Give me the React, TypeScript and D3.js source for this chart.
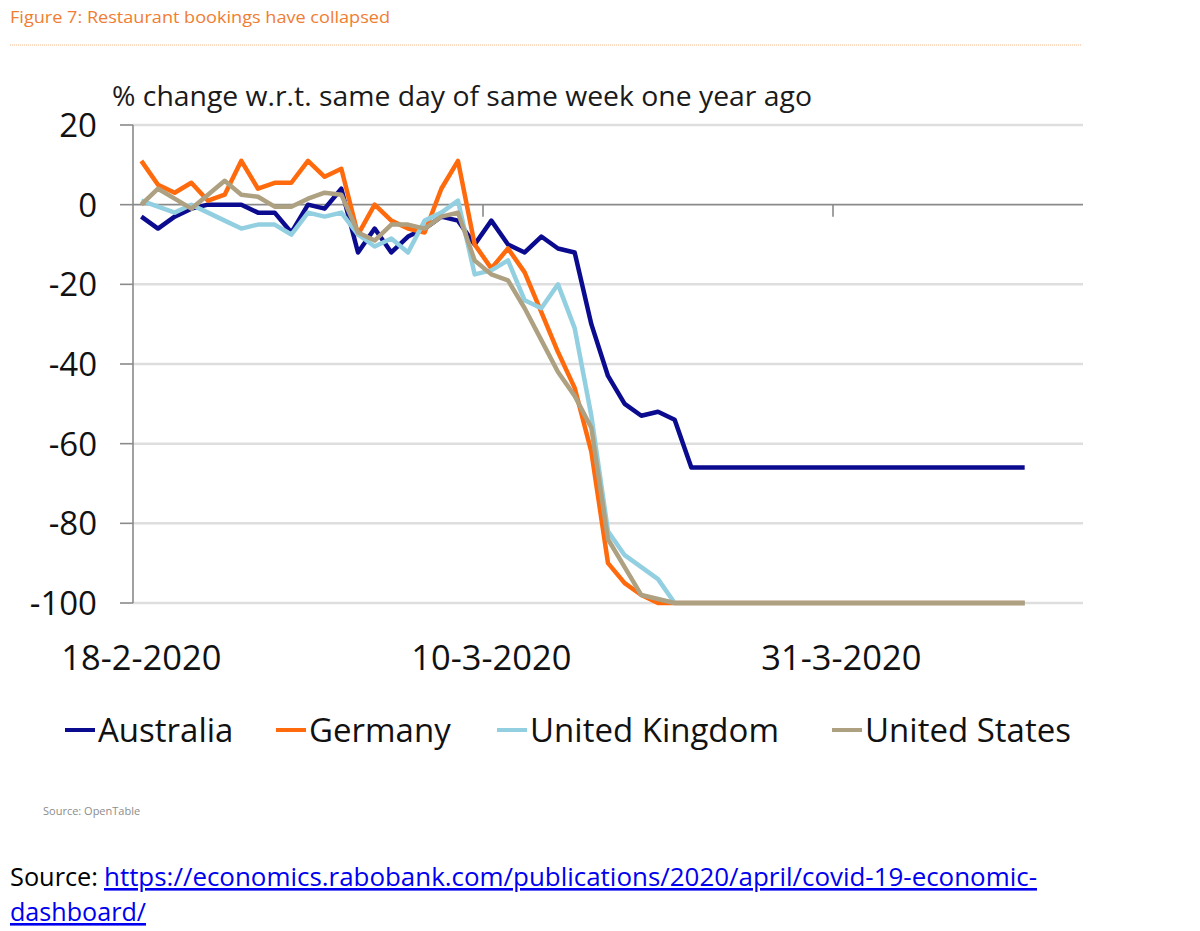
import React from "react";
import * as d3 from "d3";

const startDate = new Date(2020, 1, 18);
const endDate = new Date(2020, 3, 15);
const tickDates = [new Date(2020, 1, 18), new Date(2020, 2, 10), new Date(2020, 2, 31)];
const tickLabels = ["18-2-2020", "10-3-2020", "31-3-2020"];
const yTicks = [20, 0, -20, -40, -60, -80, -100];

const seriesNames = ["Australia", "Germany", "United Kingdom", "United States"];
const seriesColors = ["#0b0b8f", "#ff6a0d", "#92cfe0", "#aea182"];

const australia = [
  -3, -6, -3, -1, 0, 0, 0, -2, -2, -7, 0, -1, 4, -12, -6, -12, -8, -6, -3, -4,
  -10, -4, -10, -12, -8, -11, -12, -30, -43, -50, -53, -52, -54,
  -66, -66, -66, -66, -66, -66, -66, -66, -66, -66, -66, -66, -66, -66, -66, -66, -66, -66, -66, -66, -66,
];
const germany = [
  11, 5, 3, 5.5, 1, 2.5, 11, 4, 5.5, 5.5, 11, 7, 9, -7.5, 0, -4, -6, -7, 4, 11,
  -10, -16, -11, -17, -27, -37, -46, -62, -90, -95, -98,
  -100, -100, -100, -100, -100, -100, -100, -100, -100, -100, -100, -100, -100, -100, -100, -100, -100, -100, -100, -100, -100, -100, -100,
];
const unitedKingdom = [
  1, -0.5, -2, 0, -2, -4, -6, -5, -5, -7.5, -2, -3, -2, -7.5, -10.5, -8.5, -12, -4, -2, 1,
  -17.5, -16.5, -14, -24, -26, -20, -31, -53, -82, -88, -91, -94,
  -100, -100, -100, -100, -100, -100, -100, -100, -100, -100, -100, -100, -100, -100, -100, -100, -100, -100, -100, -100, -100, -100,
];
const unitedStates = [
  0, 4, 1.5, -1, 2.5, 6, 2.5, 2, -0.5, -0.5, 1.5, 3, 2.5, -7, -9, -5, -5, -6, -3, -2,
  -14, -17.5, -19, -26, -34, -42, -48, -56, -84, -91, -98, -99,
  -100, -100, -100, -100, -100, -100, -100, -100, -100, -100, -100, -100, -100, -100, -100, -100, -100, -100, -100, -100, -100, -100,
];

const seriesValues = [australia, germany, unitedKingdom, unitedStates];

const FONT = "'Open Sans', 'Noto Sans', sans-serif";
const HALF_DAY = 12 * 3600 * 1000;

export default function App() {
  const W = 1200;
  const H = 931;
  const x = d3.scaleTime().domain([startDate, endDate]).range([133, 1083]);
  const y = d3.scaleLinear().domain([-100, 20]).range([603, 125]);

  const dayDate = (i: number) => d3.timeDay.offset(startDate, i);
  const line = d3
    .line<number>()
    .x((_, i) => x(new Date(dayDate(i).getTime() + HALF_DAY)))
    .y((v) => y(v));

  const legendX = [65, 276, 497, 832];

  return (
    <div style={{ position: "absolute", left: 0, top: 0 }}>
      <svg width={W} height={H} style={{ display: "block", background: "#fff" }}>
        <text x={10} y={23} fontFamily={FONT} fontSize={17} fill="#f07d32" textLength={380} lengthAdjust="spacingAndGlyphs">
          Figure 7: Restaurant bookings have collapsed
        </text>
        <line x1={10} x2={1082} y1={45} y2={45} stroke="#f5b98c" strokeWidth={1} strokeDasharray="1,1" />

        <text x={112} y={106} fontFamily={FONT} fontSize={27} fill="#1a1a1a" textLength={700} lengthAdjust="spacingAndGlyphs">
          % change w.r.t. same day of same week one year ago
        </text>

        {yTicks.map((t) => (
          <line key={"g" + t} x1={133} x2={1083} y1={y(t)} y2={y(t)} stroke={t === 0 ? "#8a8a8a" : "#dedede"} strokeWidth={t === 0 ? 1.6 : 2.5} />
        ))}
        <line x1={133} x2={133} y1={y(20)} y2={y(-100)} stroke="#8a8a8a" strokeWidth={1.6} />
        {yTicks.map((t) => (
          <line key={"t" + t} x1={120} x2={133} y1={y(t)} y2={y(t)} stroke="#8a8a8a" strokeWidth={1.6} />
        ))}
        {tickDates.slice(1).map((d, i) => (
          <line key={"xt" + i} x1={x(d)} x2={x(d)} y1={y(0)} y2={y(0) + 12} stroke="#8a8a8a" strokeWidth={1.6} />
        ))}
        {yTicks.map((t) => (
          <text key={"yl" + t} x={97} y={y(t) + 12} textAnchor="end" fontFamily={FONT} fontSize={33} fill="#111">
            {t}
          </text>
        ))}
        {tickDates.map((d, i) => (
          <text key={"xl" + i} x={x(new Date(d.getTime() + HALF_DAY))} y={670} textAnchor="middle" fontFamily={FONT} fontSize={34} fill="#111" textLength={160} lengthAdjust="spacingAndGlyphs">
            {tickLabels[i]}
          </text>
        ))}

        {seriesValues.map((vals, k) => (
          <path key={"s" + k} d={line(vals) || ""} fill="none" stroke={seriesColors[k]} strokeWidth={4.5} strokeLinejoin="round" />
        ))}

        {seriesNames.map((n, k) => (
          <g key={"lg" + k}>
            <line x1={legendX[k]} x2={legendX[k] + 30} y1={730} y2={730} stroke={seriesColors[k]} strokeWidth={4} />
            <text x={legendX[k] + 33} y={742} fontFamily={FONT} fontSize={33} fill="#111">
              {n}
            </text>
          </g>
        ))}

        <text x={43} y={815} fontFamily={FONT} fontSize={11} fill="#8c8c8c">
          Source: OpenTable
        </text>

        <text x={10} y={886} fontFamily={FONT} fontSize={26} fill="#000" textLength={88} lengthAdjust="spacingAndGlyphs">
          Source:
        </text>
        <text x={104} y={886} fontFamily={FONT} fontSize={26} fill="#0000ee" textDecoration="underline" textLength={933} lengthAdjust="spacingAndGlyphs">
          https://economics.rabobank.com/publications/2020/april/covid-19-economic-
        </text>
        <text x={10} y={921} fontFamily={FONT} fontSize={26} fill="#0000ee" textDecoration="underline" textLength={136} lengthAdjust="spacingAndGlyphs">
          dashboard/
        </text>
      </svg>
    </div>
  );
}
